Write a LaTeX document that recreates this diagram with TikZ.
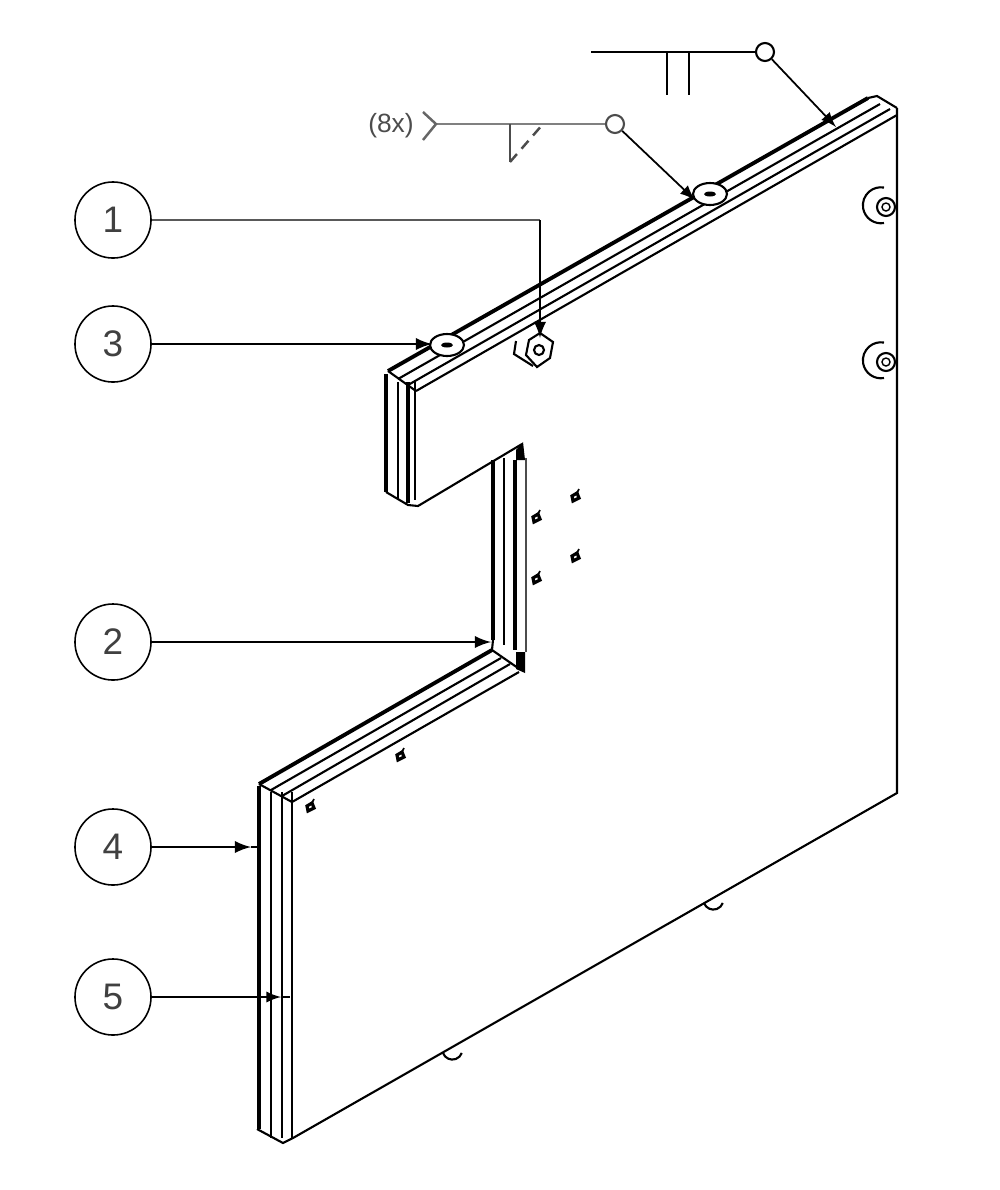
\documentclass[tikz,border=0pt]{standalone}
\usepackage{fontspec}
\setmainfont{Liberation Sans}
\tikzset{
	balloon/.style={draw, circle, line width=0.45pt, minimum size=0.76cm, inner sep=0pt, fill=white, text=black!75, font=\fontsize{10.5}{10.5}\selectfont},
	leader/.style={line width=0.6pt, -latex},
	part/.style={line width=0.6pt},
	heavy/.style={line width=1.1pt},
	weld/.style={line width=0.7pt},
	weldring/.style={circle, draw, line width=0.6pt, minimum size=0.18cm, inner sep=0pt},
	holemark/.style={line width=0.9pt, line cap=round},
	knob/.style={line width=0.6pt, fill=white}
}
\begin{document}
\begin{tikzpicture}[x=0.01cm, y=-0.01cm]
	\useasboundingbox (0,0) rectangle (1000,1190);
	% outline of the plate
	\draw[part] (897,108) -- (897,793) -- (293,1138) -- (283,1143) -- (257,1129);
	% strips along the top
	\draw[heavy] (388,371) -- (868,98);
	\draw[part] (868,98) -- (877,96) -- (897,108);
	\draw[part] (398,379) -- (880,104);
	\draw[part] (408,385) -- (890,109);
	\draw[part] (416,391) -- (897,115);
	\draw[part] (388,371) -- (416,391);
	% strips along the lower step
	\draw[heavy] (259,784) -- (492,650);
	\draw[part] (271,790) -- (501,658);
	\draw[part] (282,796) -- (510,664);
	\draw[part] (292,802) -- (519,672);
	\draw[part] (259,784) -- (292,802);
	% upper block
	\draw[line width=1.4pt] (386,374) -- (386,492);
	\foreach \x in {398,415}
		\draw[part] (\x,382) -- (\x,500);
	\draw[heavy] (408,382) -- (408,503);
	\draw[part] (386,492) -- (408,505) -- (418,506) -- (522,444);
	% inner face of the notch
	\draw[heavy] (493,460) -- (493,640);
	\draw[part] (504,458) -- (504,645);
	\draw[heavy] (515,460) -- (515,650);
	\draw[line width=0.5pt, black!70] (526,458) -- (526,652);
	\draw[part] (493,640) -- (492,650) -- (518,668);
	\fill (516,450) -- (523,442) -- (525,460) -- (516,460) -- cycle;
	\fill (516,652) -- (525,652) -- (525,673) -- (516,669) -- cycle;
	% edge of the lower block
	\draw[line width=1.4pt] (259,786) -- (259,1129);
	\foreach \x in {271,282,292}
		\draw[part] (\x,792) -- (\x,1138);
	% nuts on the top strip
	\foreach \x/\y in {710/194,447/345}
	  {
		\draw[knob] (\x,\y) ellipse (17 and 11);
		\fill (\x,\y) ellipse (6 and 2.5);
	  }
	% studs on the face
	\foreach \y in {205,360}
	  {
		\draw[part] (884,\y+18) arc (80:280:18);
		\draw[part] (886,\y+2) circle (9);
		\draw[line width=0.4pt] (886,\y+2) circle (4);
	  }
	% tab below the strip
	\draw[part] (516,341) -- (514,354) -- (533,366);
	\draw[knob] (540,333) -- (553,342) -- (550,358) -- (537,367) -- (526,355) -- (529,340) -- cycle;
	\draw[part] (539,350) circle (5);
	% small holes
	\foreach \x/\y in {576/496,576/556,537/517,537/578,401/755,311/806}
	  {
		\draw[holemark] (\x-3,\y+5) -- (\x-4,\y) -- (\x+1,\y-3) -- (\x+3,\y+2) -- cycle;
		\draw[line width=0.5pt] (\x+1,\y-3) -- (\x+3,\y-7);
	  }
	% bumps under the bottom edge
	\draw[part] (704,903) arc (160:20:10);
	\draw[part] (443,1053) arc (160:20:10);
	% balloons
	\node[balloon] (b1) at (113,220) {1};
	\node[balloon] (b3) at (113,344) {3};
	\node[balloon] (b2) at (113,642) {2};
	\node[balloon] (b4) at (113,847) {4};
	\node[balloon] (b5) at (113,997) {5};
	\coordinate (k1) at (540,220);
	\coordinate (t1) at (540,338);
	\coordinate (t3) at (432,344);
	\coordinate (t2) at (491,642);
	\coordinate (t4) at (251,847);
	\coordinate (r4) at (258,847);
	\coordinate (t5) at (281,997);
	\coordinate (r5) at (290,997);
	\draw[line width=0.5pt, black!65] (b1) -- (k1);
	\draw[leader] (k1) -- (t1);
	\draw[leader] (b3) -- (t3);
	\draw[leader] (b2) -- (t2);
	\draw[leader] (b4) -- (t4);
	\draw[line width=0.5pt] (t4) -- (r4);
	\draw[line width=0.45pt, -latex] (b5) -- (t5);
	\draw[line width=0.45pt] (t5) -- (r5);
	% weld symbols
	\node[weldring] (w1) at (765,52) {};
	\node[weldring, black!70] (w2) at (615,124) {};
	\coordinate (s1) at (591,52);
	\coordinate (s2) at (436,124);
	\coordinate (e1) at (836,127);
	\coordinate (e2) at (695,200);
	\draw[weld] (s1) -- (w1);
	\draw[line width=0.8pt, black!50] (s2) -- (w2);
	\draw[line width=0.5pt, -latex] (w1) -- (e1);
	\draw[line width=0.5pt, -latex] (w2) -- (e2);
	\foreach \x in {667,689}
		\draw[weld] (\x,52) -- (\x,95);
	\draw[weld, black!70] (510,124) -- (510,162);
	\draw[weld, black!70, densely dashed] (510,162) -- (543,124);
	\draw[weld, black!60] (423,112) -- (s2) -- (423,140);
	\node[text=black!70, font=\fontsize{7.5}{7.5}\selectfont] (n8) at (391,126) {(8x)};
\end{tikzpicture}
\end{document}
